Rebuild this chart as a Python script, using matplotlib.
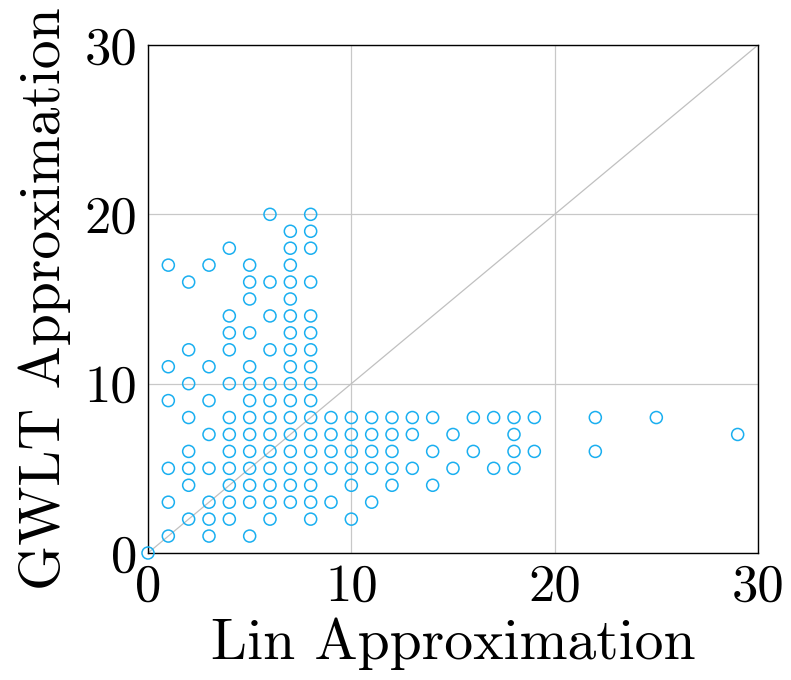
import matplotlib
matplotlib.use("Agg")
import matplotlib.pyplot as plt

# Data: (Lin, GWLT) columns
lin_vals = [0,
            1, 1, 1, 1, 1, 1,
            2, 2, 2, 2, 2, 2, 2, 2,
            3, 3, 3, 3, 3, 3, 3, 3,
            4, 4, 4, 4, 4, 4, 4, 4, 4, 4, 4, 4,
            5, 5, 5, 5, 5, 5, 5, 5, 5, 5, 5, 5, 5, 5,
            6, 6, 6, 6, 6, 6, 6, 6, 6, 6, 6, 6, 6,
            7, 7, 7, 7, 7, 7, 7, 7, 7, 7, 7, 7, 7, 7, 7, 7, 7,
            8, 8, 8, 8, 8, 8, 8, 8, 8, 8, 8, 8, 8, 8, 8, 8, 8,
            9, 9, 9, 9, 9,
            10, 10, 10, 10, 10, 10,
            11, 11, 11, 11, 11,
            12, 12, 12, 12, 12,
            13, 13, 13,
            14, 14, 14,
            15, 15,
            16, 16,
            17, 17,
            18, 18, 18, 18,
            19, 19,
            22, 22,
            25,
            29]
gwlt_vals = [0,
             17, 11, 9, 5, 3, 1,
             16, 12, 10, 8, 6, 5, 4, 2,
             17, 11, 9, 7, 5, 3, 2, 1,
             18, 14, 13, 12, 10, 8, 7, 6, 5, 4, 3, 2,
             17, 16, 15, 13, 11, 10, 9, 8, 7, 6, 5, 4, 3, 1,
             20, 16, 14, 12, 10, 9, 8, 7, 6, 5, 4, 3, 2,
             19, 18, 17, 16, 15, 14, 13, 12, 11, 10, 9, 8, 7, 6, 5, 4, 3,
             20, 19, 18, 16, 14, 13, 12, 11, 10, 9, 8, 7, 6, 5, 4, 3, 2,
             8, 7, 6, 5, 3,
             8, 7, 6, 5, 4, 2,
             8, 7, 6, 5, 3,
             8, 7, 6, 5, 4,
             8, 7, 5,
             8, 6, 4,
             7, 5,
             8, 6,
             8, 5,
             8, 7, 6, 5,
             8, 6,
             8, 6,
             8,
             7]
ticks = [0, 10, 20, 30]

plt.rcParams['font.family'] = 'serif'
plt.rcParams['font.serif'] = ['cmr10']
plt.rcParams['axes.formatter.use_mathtext'] = True
plt.rcParams['mathtext.fontset'] = 'cm'

fig = plt.figure(figsize=(7.91, 6.80), dpi=100)
ax = fig.add_axes([148/791, 1-553/680, (758-148)/791, (553-45)/680])

ax.plot([0, 30], [0, 30], color='#c0c0c0', lw=0.9, zorder=1)
ax.scatter(lin_vals, gwlt_vals, s=75, facecolors='none', edgecolors='#1aaff0',
           linewidths=1.1, zorder=3, clip_on=False)

ax.set_xlim(0, 30)
ax.set_ylim(0, 30)
ax.set_xticks(ticks)
ax.set_yticks(ticks)
ax.set_xticklabels([str(t) for t in ticks])
ax.set_yticklabels([str(t) for t in ticks])
ax.grid(True, color='#c8c8c8', lw=0.9, zorder=0)
ax.set_axisbelow(True)
ax.tick_params(direction='in', length=0, labelsize=38, pad=7.5)
for s in ax.spines.values():
    s.set_linewidth(1.0)
    s.set_color('black')

ax.set_xlabel('Lin Approximation', fontsize=41.5, labelpad=5)
ax.set_ylabel('GWLT Approximation', fontsize=41.5, labelpad=10)

fig.savefig('out.png', dpi=100)
